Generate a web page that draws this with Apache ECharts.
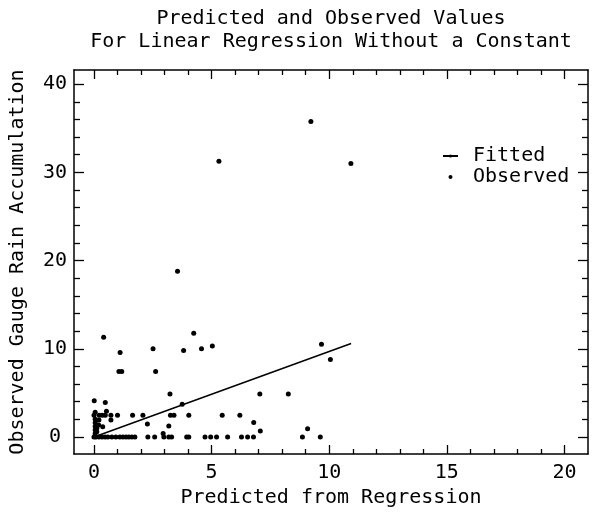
<!DOCTYPE html>
<html>
<head>
<meta charset="utf-8">
<script src="https://cdn.jsdelivr.net/npm/echarts@6/dist/echarts.min.js"></script>
<style>html,body{margin:0;padding:0;background:#fff}#c{width:598px;height:513px}</style>
</head>
<body>
<div id="c"></div>
<script>
// ---- data ----
const titleLines = ['Predicted and Observed Values', 'For Linear Regression Without a Constant'];
const xName = 'Predicted from Regression';
const yName = 'Observed Gauge Rain Accumulation';
const xMajorTicks = [0, 5, 10, 15, 20];
const xMinorTicks = [1,2,3,4,6,7,8,9,11,12,13,14,16,17,18,19];
const yMajorTicks = [0, 10, 20, 30, 40];
const yMinorTicks = [2,4,6,8,12,14,16,18,22,24,26,28,32,34,36,38];
const fittedX = [0, 10.93];
const fittedY = [0, 10.6];
const observedX = [
  9.22, 5.31, 10.92, 3.55,
  0.41, 1.11, 1.06, 1.18, 2.51, 2.62, 4.24, 3.81, 4.57, 5.03, 9.67, 10.05,
  3.23, 7.05, 8.26, 0.01, 0.48, 0.53, 3.75,
  0.0, 0.22, 0.35, 0.48, 0.72, 1.0, 1.64, 2.08, 3.25, 3.4, 4.03, 5.45, 6.2,
  2.27, 3.18, 2.94, 6.79, 7.07, 9.08, 0.21, 0.2, 0.37, 0.72,
  0.05, 0.05, 0.05, 0.05, 0.05, 0.05, 0.12, 0.12,
  0.0, 0.08, 0.21, 0.34, 0.47, 0.59, 0.76, 0.93, 1.1, 1.23, 1.36, 1.48, 1.61, 1.74,
  2.29, 2.58, 2.97, 3.18, 3.3, 3.94, 4.03, 4.72, 4.96, 5.21, 5.68, 6.27, 6.53, 6.78, 8.86, 9.62
];
const observedY = [
  35.75, 31.25, 31.0, 18.8,
  11.3, 9.57, 7.41, 7.41, 10.0, 7.41, 11.77, 9.8, 10.0, 10.3, 10.5, 8.77,
  4.88, 4.88, 4.88, 4.12, 3.92, 2.92, 3.71,
  2.45, 2.45, 2.45, 2.45, 2.45, 2.45, 2.45, 2.45, 2.45, 2.45, 2.45, 2.45, 2.45,
  1.48, 1.25, 0.4, 1.65, 0.68, 0.94, 1.93, 1.36, 1.17, 1.93,
  0.4, 0.8, 1.2, 1.6, 2.0, 2.8, 0.6, 1.0,
  0, 0, 0, 0, 0, 0, 0, 0, 0, 0, 0, 0, 0, 0,
  0, 0, 0, 0, 0, 0, 0, 0, 0, 0, 0, 0, 0, 0, 0, 0
];

// ---- chart ----
const FONT = 'DejaVu Sans Mono';
const FS = 20;
const txt = {color: '#000', fontFamily: FONT, fontSize: FS};
const X_MIN = -0.85, X_MAX = 21;
const Y_MIN = -1.93, Y_MAX = 41.6;

function xAx(pos, ticks, len, labels, line) {
  return {
    type: 'value', position: pos, min: X_MIN, max: X_MAX,
    splitLine: {show: false},
    axisLine: {show: line, onZero: false, lineStyle: {color: '#000', width: 1.5}},
    axisTick: {show: true, inside: true, length: len, customValues: ticks, lineStyle: {color: '#000', width: 1.3}},
    axisLabel: labels ? Object.assign({show: true, customValues: ticks, margin: 9}, txt) : {show: false},
    name: labels ? xName : '', nameLocation: 'middle', nameGap: 33, nameTextStyle: txt
  };
}
function yAx(pos, ticks, len, labels, line) {
  return {
    type: 'value', position: pos, min: Y_MIN, max: Y_MAX,
    splitLine: {show: false},
    axisLine: {show: line, onZero: false, lineStyle: {color: '#000', width: 1.5}},
    axisTick: {show: true, inside: true, length: len, customValues: ticks, lineStyle: {color: '#000', width: 1.3}},
    axisLabel: labels ? Object.assign({show: true, customValues: ticks, margin: 19, align: 'center'}, txt) : {show: false},
    name: labels ? yName : '', nameLocation: 'middle', nameGap: 46, nameRotate: 90, nameTextStyle: txt
  };
}

const chart = echarts.init(document.getElementById('c'), null, {renderer: 'canvas'});
chart.setOption({
  animation: false,
  backgroundColor: '#fff',
  title: {
    text: titleLines.join('\n'),
    left: 326, top: 2, textAlign: 'center',
    textStyle: Object.assign({fontWeight: 'normal', lineHeight: 23}, txt)
  },
  legend: {
    orient: 'vertical', left: 437, top: 141,
    itemWidth: 15, itemHeight: 4, itemGap: 1,
    textStyle: Object.assign({padding: [0, 0, 0, 10]}, txt),
    data: [{name: 'Fitted'}, {name: 'Observed', icon: 'circle'}]
  },
  grid: {left: 72, right: 10, top: 70, bottom: 59, containLabel: false},
  xAxis: [
    xAx('bottom', xMajorTicks, 9, true, true),
    xAx('bottom', xMinorTicks, 5, false, false),
    xAx('top', xMajorTicks, 9, false, true),
    xAx('top', xMinorTicks, 5, false, false)
  ],
  yAxis: [
    yAx('left', yMajorTicks, 10, true, true),
    yAx('left', yMinorTicks, 6, false, false),
    yAx('right', yMajorTicks, 10, false, true),
    yAx('right', yMinorTicks, 6, false, false)
  ],
  series: [
    {
      name: 'Fitted', type: 'line', xAxisIndex: 0, yAxisIndex: 0,
      symbol: 'none', lineStyle: {color: '#000', width: 1.5}, itemStyle: {color: '#000'},
      data: fittedX.map((x, i) => [x, fittedY[i]])
    },
    {
      name: 'Observed', type: 'scatter', xAxisIndex: 0, yAxisIndex: 0,
      symbol: 'circle', symbolSize: 5, itemStyle: {color: '#000', opacity: 1},
      data: observedX.map((x, i) => [x, observedY[i]])
    }
  ]
});
</script>
</body>
</html>
